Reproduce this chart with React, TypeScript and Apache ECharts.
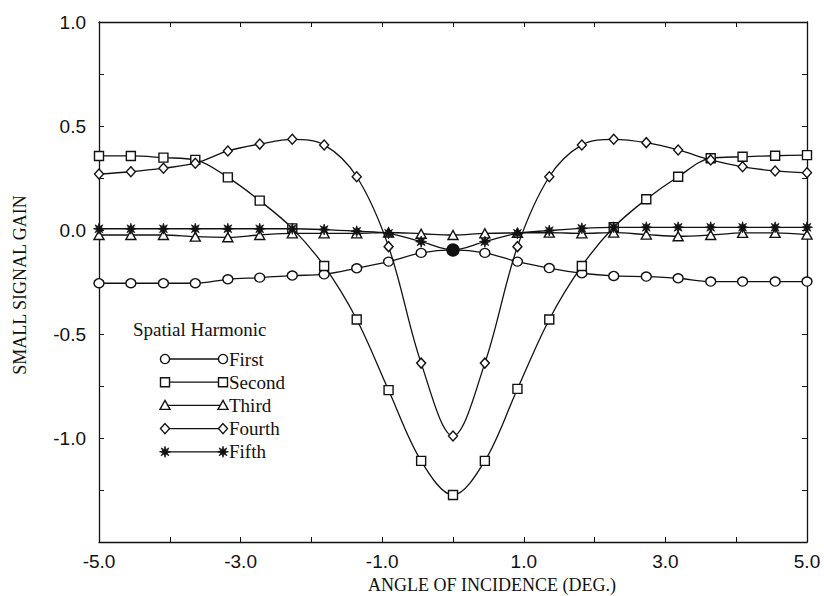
import React, { useEffect, useRef } from "react";
import * as echarts from "echarts";

// Angle of incidence (deg.) of the sampled points
const angles = [-5.0, -4.55, -4.09, -3.64, -3.18, -2.73, -2.27, -1.82, -1.36, -0.91, -0.45, 0.0, 0.45, 0.91, 1.36, 1.82, 2.27, 2.73, 3.18, 3.64, 4.09, 4.55, 5.0];

const firstHarm = [-0.256, -0.256, -0.256, -0.256, -0.237, -0.229, -0.219, -0.213, -0.184, -0.152, -0.11, -0.096, -0.11, -0.152, -0.183, -0.208, -0.221, -0.224, -0.232, -0.248, -0.248, -0.248, -0.248];
const secondHarm = [0.356, 0.356, 0.348, 0.337, 0.253, 0.141, 0.008, -0.173, -0.43, -0.77, -1.11, -1.274, -1.11, -0.764, -0.43, -0.173, 0.013, 0.148, 0.256, 0.345, 0.352, 0.357, 0.36];
const thirdHarm = [-0.024, -0.024, -0.024, -0.032, -0.035, -0.024, -0.016, -0.016, -0.016, -0.012, -0.018, -0.024, -0.016, -0.014, -0.013, -0.016, -0.013, -0.022, -0.03, -0.024, -0.014, -0.014, -0.022];
const fourthHarm = [0.269, 0.28, 0.297, 0.321, 0.38, 0.413, 0.436, 0.409, 0.256, -0.08, -0.64, -0.99, -0.64, -0.08, 0.256, 0.409, 0.436, 0.42, 0.385, 0.337, 0.304, 0.284, 0.275];
const fifthHarm = [0.006, 0.006, 0.006, 0.006, 0.006, 0.006, 0.006, 0.002, -0.006, -0.016, -0.056, -0.096, -0.056, -0.016, -0.003, 0.008, 0.013, 0.013, 0.013, 0.013, 0.013, 0.013, 0.013];

const seriesNames = ["First", "Second", "Third", "Fourth", "Fifth"];
const seriesValues = [firstHarm, secondHarm, thirdHarm, fourthHarm, fifthHarm];

const xTickLabels = ["-5.0", "-3.0", "-1.0", "1.0", "3.0", "5.0"];
const yTickLabels = ["-1.0", "-0.5", "0.0", "0.5", "1.0"];

const legendTitle = "Spatial Harmonic";
const xTitle = "ANGLE OF INCIDENCE (DEG.)";
const yTitle = "SMALL SIGNAL GAIN";

// 8-armed asterisk star (shape only)
function starPoints(cx: number, cy: number, ro: number, ri: number): number[][] {
  const pts: number[][] = [];
  for (let k = 0; k < 16; k++) {
    const a = (k * Math.PI) / 8;
    const r = k % 2 === 0 ? ro : ri;
    pts.push([cx + r * Math.cos(a), cy + r * Math.sin(a)]);
  }
  return pts;
}
const starPath =
  "path://" +
  starPoints(0, 0, 5, 2.2)
    .map((p, i) => (i === 0 ? "M" : "L") + p[0].toFixed(3) + "," + p[1].toFixed(3))
    .join(" ") +
  " Z";

const symbols: any[] = ["circle", "rect", "triangle", "diamond", starPath];
const symbolSizes: any[] = [[10, 9], [9, 9], [10, 9], [9, 10], [11, 11]];

export default function App() {
  const ref = useRef<HTMLDivElement>(null);

  useEffect(() => {
    if (!ref.current) return;
    const chart = echarts.init(ref.current, undefined, { renderer: "svg" });

    const black = "#111";
    const axisCommon = {
      type: "value" as const,
      axisLine: { show: true, onZero: false, lineStyle: { color: black, width: 1.3 } },
      axisTick: { show: true, inside: true, length: 5, lineStyle: { color: black, width: 1 } },
      splitLine: { show: false },
    };

    const series = seriesNames.map((name, si) => {
      const vals = seriesValues[si];
      const isStar = si === 4;
      return {
        type: "line",
        name,
        smooth: 0.35,
        symbol: symbols[si],
        symbolSize: symbolSizes[si],
        showSymbol: true,
        lineStyle: { color: black, width: 1.3 },
        itemStyle: {
          color: isStar ? black : "#fff",
          borderColor: black,
          borderWidth: isStar ? 0.8 : 1.4,
        },
        z: 2 + si,
        data: angles.map((a, i) => {
          if (si === 0 && a === 0) {
            return { value: [a, vals[i]], symbolSize: 12, itemStyle: { color: black } };
          }
          return [a, vals[i]];
        }),
      };
    });

    const legendX0 = 165;
    const legendX1 = 223;
    const legendY0 = 359;
    const legendDy = 23.2;
    const legendEls: any[] = [
      {
        type: "text",
        left: 133,
        top: 331 - 11,
        style: { text: legendTitle, fill: black, font: "19px 'Liberation Serif', 'Times New Roman', serif" },
      },
    ];
    const markerEl = (si: number, cx: number, cy: number): any => {
      const st = { fill: "#fff", stroke: black, lineWidth: 1.4 };
      if (si === 0) return { type: "circle", shape: { cx, cy, r: 4.6 }, style: st, z: 10 };
      if (si === 1) return { type: "rect", shape: { x: cx - 4.5, y: cy - 4.5, width: 9, height: 9 }, style: st, z: 10 };
      if (si === 2)
        return { type: "polygon", shape: { points: [[cx, cy - 5], [cx + 5, cy + 4], [cx - 5, cy + 4]] }, style: st, z: 10 };
      if (si === 3)
        return { type: "polygon", shape: { points: [[cx, cy - 5], [cx + 4.5, cy], [cx, cy + 5], [cx - 4.5, cy]] }, style: st, z: 10 };
      return { type: "polygon", shape: { points: starPoints(cx, cy, 5.5, 2.3) }, style: { fill: black, stroke: black, lineWidth: 0.8 }, z: 10 };
    };
    seriesNames.forEach((name, si) => {
      const cy = legendY0 + si * legendDy;
      legendEls.push({
        type: "line",
        shape: { x1: legendX0, y1: cy, x2: legendX1, y2: cy },
        style: { stroke: black, lineWidth: 1.3 },
        z: 9,
      });
      legendEls.push(markerEl(si, legendX0, cy));
      legendEls.push(markerEl(si, legendX1, cy));
      legendEls.push({
        type: "text",
        x: 229,
        y: cy,
        style: {
          text: name,
          fill: black,
          font: "19px 'Liberation Serif', 'Times New Roman', serif",
          verticalAlign: "middle",
          align: "left",
        },
      });
    });

    const option: any = {
      animation: false,
      backgroundColor: "#fff",
      grid: { left: 99, right: 17, top: 22, bottom: 54, containLabel: false },
      xAxis: [
        {
          ...axisCommon,
          min: -5,
          max: 5,
          interval: 1,
          position: "bottom",
          axisLabel: {
            show: true,
            color: black,
            fontFamily: "'Liberation Sans', Arial, sans-serif",
            fontSize: 19,
            margin: 10,
            formatter: (v: number) => {
              const s = v.toFixed(1);
              return xTickLabels.indexOf(s) >= 0 ? s : "";
            },
          },
        },
        {
          ...axisCommon,
          min: -5,
          max: 5,
          interval: 1,
          position: "top",
          axisLabel: { show: false },
        },
      ],
      yAxis: [
        {
          ...axisCommon,
          min: -1.5,
          max: 1.0,
          interval: 0.25,
          position: "left",
          axisLabel: {
            show: true,
            color: black,
            fontFamily: "'Liberation Sans', Arial, sans-serif",
            fontSize: 19,
            margin: 13,
            formatter: (v: number) => {
              const s = (Math.abs(v) < 1e-9 ? 0 : v).toFixed(1);
              const isHalf = Math.abs(v * 2 - Math.round(v * 2)) < 1e-6;
              return isHalf && yTickLabels.indexOf(s) >= 0 ? s : "";
            },
          },
        },
        {
          ...axisCommon,
          min: -1.5,
          max: 1.0,
          interval: 0.25,
          position: "right",
          axisLabel: { show: false },
        },
      ],
      series,
      graphic: [
        {
          type: "text",
          x: 492,
          y: 585,
          style: {
            text: xTitle,
            fill: black,
            font: "18px 'Liberation Serif', 'Times New Roman', serif",
            align: "center",
            verticalAlign: "middle",
          },
        },
        {
          type: "text",
          x: 20,
          y: 285,
          rotation: Math.PI / 2,
          style: {
            text: yTitle,
            fill: black,
            font: "18px 'Liberation Serif', 'Times New Roman', serif",
            align: "center",
            verticalAlign: "middle",
          },
        },
        ...legendEls,
      ],
    };

    chart.setOption(option);
    return () => chart.dispose();
  }, []);

  return <div ref={ref} style={{ width: 824, height: 596, position: "absolute", left: 0, top: 0 }} />;
}
